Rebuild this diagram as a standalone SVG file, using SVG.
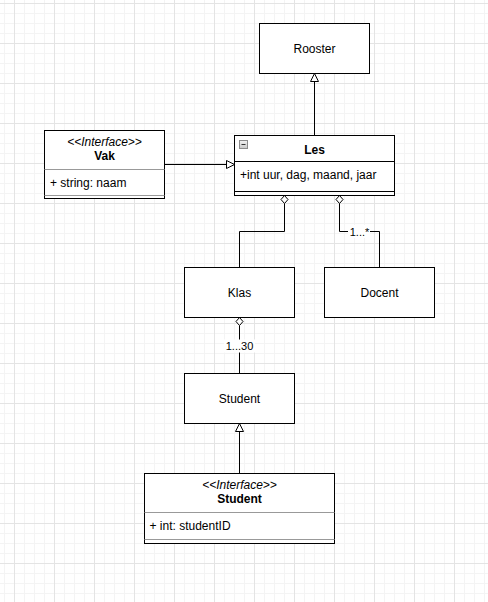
<svg xmlns="http://www.w3.org/2000/svg" width="488" height="602" viewBox="0 0 488 602">
  <defs>
    <pattern id="grid" x="14" y="3" width="40" height="40" patternUnits="userSpaceOnUse">
      <rect x="10" y="0" width="1" height="40" fill="#f4f4f4"/>
      <rect x="20" y="0" width="1" height="40" fill="#f4f4f4"/>
      <rect x="30" y="0" width="1" height="40" fill="#f4f4f4"/>
      <rect x="0" y="10" width="40" height="1" fill="#f4f4f4"/>
      <rect x="0" y="20" width="40" height="1" fill="#f4f4f4"/>
      <rect x="0" y="30" width="40" height="1" fill="#f4f4f4"/>
      <rect x="0" y="0" width="1" height="40" fill="#e4e4e4"/>
      <rect x="0" y="0" width="40" height="1" fill="#e4e4e4"/>
    </pattern>
    <linearGradient id="icon" x1="0" y1="0" x2="0" y2="1">
      <stop offset="0" stop-color="#f2f2f2"/>
      <stop offset="1" stop-color="#c8c8c8"/>
    </linearGradient>
  </defs>
  <style>
    .box { fill: #ffffff; stroke: #000000; stroke-width: 1; }
    .sep { stroke: #000000; stroke-width: 1; fill: none; }
    .gsep { stroke: #999999; stroke-width: 1; fill: none; }
    .t { font-family: "Liberation Sans", Arial, sans-serif; font-size: 12px; fill: #000000; }
    .c { text-anchor: middle; }
    .b { font-weight: bold; }
    .i { font-style: italic; }
    .lbl { font-family: "Liberation Sans", Arial, sans-serif; font-size: 11px; fill: #000000; text-anchor: middle; }
    .edge { stroke: #000000; stroke-width: 1; fill: none; }
    .tri { fill: #ffffff; stroke: #000000; stroke-width: 1; }
    .dia { fill: #ffffff; stroke: #000000; stroke-width: 1; }
  </style>
  <rect x="0" y="0" width="488" height="602" fill="#ffffff"/>
  <rect x="0" y="0" width="488" height="602" fill="url(#grid)"/>

  <g id="connectors">
    <!-- Les -> Rooster (generalization) -->
    <path class="edge" d="M314.5 135.5 V81.5"/>
    <polygon class="tri" points="314.5,73.5 318.5,81.5 310.5,81.5"/>
    <!-- Vak -> Les (realization) -->
    <path class="edge" d="M164.5 164.5 H226.5"/>
    <polygon class="tri" points="234.5,164.5 226.5,160.5 226.5,168.5"/>
    <!-- Klas -> Les (aggregation) -->
    <path class="edge" d="M239.5 267.5 V231.5 H284.5 V203.5"/>
    <polygon class="dia" points="284.5,195.5 288,199.5 284.5,203.5 281,199.5"/>
    <!-- Docent -> Les (aggregation) -->
    <path class="edge" d="M379.5 267.5 V231.5 H339.5 V203.5"/>
    <polygon class="dia" points="339.5,195.5 343,199.5 339.5,203.5 336,199.5"/>
    <rect x="348" y="225" width="22" height="13" fill="#ffffff"/>
    <text class="lbl" x="359.5" y="235.5">1...*</text>
    <!-- Student -> Klas (aggregation) -->
    <path class="edge" d="M239.5 373.5 V325.5"/>
    <polygon class="dia" points="239.5,317.5 243,321.5 239.5,325.5 236,321.5"/>
    <rect x="224" y="339.5" width="31" height="13" fill="#ffffff"/>
    <text class="lbl" x="239.5" y="350">1...30</text>
    <!-- Interface Student -> Student (realization) -->
    <path class="edge" d="M239.5 473.5 V431.5"/>
    <polygon class="tri" points="239.5,423.5 243.5,431.5 235.5,431.5"/>
  </g>

  <g id="rooster">
    <rect class="box" x="259.5" y="23.5" width="110" height="50"/>
    <text class="t c" x="314.5" y="52.5">Rooster</text>
  </g>

  <g id="les">
    <rect class="box" x="234.5" y="135.5" width="160" height="60"/>
    <line class="sep" x1="234.5" y1="161.5" x2="394.5" y2="161.5"/>
    <line class="sep" x1="234.5" y1="191.5" x2="394.5" y2="191.5"/>
    <rect x="239.5" y="140.5" width="8" height="8" fill="url(#icon)" stroke="#8c8c8c"/>
    <line x1="241.5" y1="144.5" x2="245.5" y2="144.5" stroke="#333333" stroke-width="1"/>
    <text class="t c b" x="314.5" y="154">Les</text>
    <text class="t" x="240" y="179">+int uur, dag, maand, jaar</text>
  </g>

  <g id="vak">
    <rect class="box" x="44.5" y="130.5" width="120" height="68"/>
    <line class="gsep" x1="44.5" y1="169.5" x2="164.5" y2="169.5"/>
    <line class="gsep" x1="44.5" y1="195.5" x2="164.5" y2="195.5"/>
    <text class="t c i" x="104.5" y="145.5">&lt;&lt;Interface&gt;&gt;</text>
    <text class="t c b" x="104.5" y="159.5">Vak</text>
    <text class="t" x="50" y="187">+ string: naam</text>
  </g>

  <g id="klas">
    <rect class="box" x="184.5" y="267.5" width="110" height="50"/>
    <text class="t c" x="239.5" y="297">Klas</text>
  </g>

  <g id="docent">
    <rect class="box" x="324.5" y="267.5" width="110" height="50"/>
    <text class="t c" x="379.5" y="297">Docent</text>
  </g>

  <g id="student">
    <rect class="box" x="184.5" y="373.5" width="110" height="50"/>
    <text class="t c" x="239.5" y="402.5">Student</text>
  </g>

  <g id="student-interface">
    <rect class="box" x="144.5" y="473.5" width="190" height="70"/>
    <line class="gsep" x1="144.5" y1="512.5" x2="334.5" y2="512.5"/>
    <line class="gsep" x1="144.5" y1="539.5" x2="334.5" y2="539.5"/>
    <text class="t c i" x="239.5" y="488.5">&lt;&lt;Interface&gt;&gt;</text>
    <text class="t c b" x="239.5" y="502.5">Student</text>
    <text class="t" x="149.5" y="530">+ int: studentID</text>
  </g>
</svg>
